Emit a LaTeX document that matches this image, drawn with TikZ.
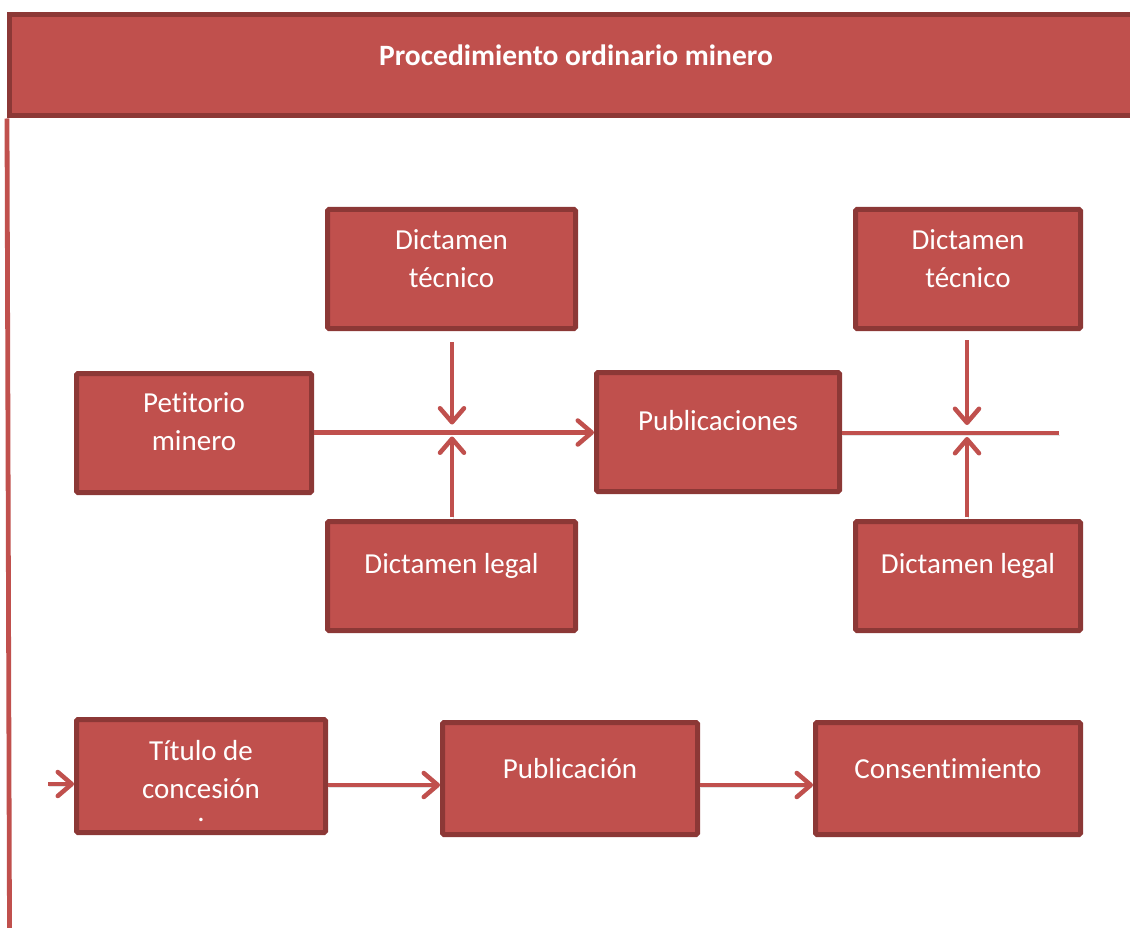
\documentclass[tikz,border=0pt]{standalone}
\usepackage{fontspec}
\setmainfont{Carlito}[Ligatures=NoCommon]
\usetikzlibrary{arrows.meta}
\definecolor{boxfill}{HTML}{C0504D}
\definecolor{boxedge}{HTML}{8C3836}
\begin{document}
\begin{tikzpicture}[x=1pt,y=-1pt,
  stepbox/.style={draw=boxedge, fill=boxfill, line width=5pt, rounded corners=1.5pt, inner sep=0pt},
  boxtext/.style={text=white, font=\fontsize{29}{38}\selectfont, align=center, inner sep=0pt},
  flow/.style={draw=boxfill, line width=4.5pt,
    preaction={draw=black!30, opacity=0.35, transform canvas={shift={(1pt,-2pt)}}}},
  tip/.style={-{Straight Barb[length=14pt,width=24pt,line cap=round,line join=round]}}
]
\useasboundingbox (0,0) rectangle (1130,928);

% title band and the rail down the left side
\node[stepbox, rounded corners=0pt, minimum width=1131pt, minimum height=101pt] (head) at (574.5,65.5) {};
\node[text=white, font=\bfseries\fontsize{29.5}{34}\selectfont, inner sep=0pt] (title) at (576,55) {Procedimiento ordinario minero};
\coordinate (railend) at (9.5,928);
\draw[draw=boxfill, line width=4.8pt] (head.south west) ++(0.5pt,0) coordinate (railtop) (railtop) -- (railend);

% first stage boxes
\node[stepbox, minimum width=235pt, minimum height=119pt] (pet) at (194,433) {};
\node[stepbox, minimum width=248pt, minimum height=119pt] (dt1) at (451.5,269) {};
\node[stepbox, minimum width=248pt, minimum height=109pt] (dl1) at (451.5,576) {};
\node[stepbox, minimum width=243pt, minimum height=119pt] (pub) at (718,432) {};
\node[stepbox, minimum width=225pt, minimum height=119pt] (dt2) at (968,269) {};
\node[stepbox, minimum width=225pt, minimum height=109pt] (dl2) at (968,576) {};

% second stage boxes
\node[stepbox, minimum width=249pt, minimum height=113pt] (tit) at (201,776) {};
\node[stepbox, minimum width=255pt, minimum height=112pt] (pubn) at (570,778.5) {};
\node[stepbox, minimum width=265pt, minimum height=112pt] (cons) at (948,778.5) {};

% labels
\node[boxtext] (petL) at (194,422) {Petitorio\\minero};
\node[boxtext] (dt1L) at (451.5,259) {Dictamen\\técnico};
\node[boxtext] (dl1L) at (451.5,566) {Dictamen legal};
\node[boxtext] (pubL) at (718,421) {Publicaciones};
\node[boxtext] (dt2L) at (968,259) {Dictamen\\técnico};
\node[boxtext] (dl2L) at (968,566) {Dictamen legal};
\node[boxtext] (titL) at (201,770) {Título de\\concesión};
\node[boxtext, anchor=base] (titDot) at (201,821) {.};
\node[boxtext] (pubnL) at (570,769) {Publicación};
\node[boxtext] (consL) at (948,769) {Consentimiento};

% junctions on the main line
\coordinate (j1) at (452,432.5);
\coordinate (j2) at (967,433);
\coordinate (lineend) at (1059,433);
\coordinate (entry) at (48,784);

% connectors
\draw[flow, tip] (pet.east |- j1) -- (pub.west |- j1);
\draw[flow, tip, shorten <=11pt, shorten >=8pt] (dt1.south -| j1) -- (j1);
\draw[flow, tip, shorten <=2pt, shorten >=4pt] (dl1.north -| j1) -- (j1);
\draw[flow] (pub.east |- j2) -- (lineend);
\draw[flow, tip, shorten <=9pt, shorten >=8pt] (dt2.south -| j2) -- (j2);
\draw[flow, tip, shorten <=2pt, shorten >=4pt] (dl2.north -| j2) -- (j2);

\draw[flow, tip] (entry) -- (tit.west |- entry);
\draw[flow, tip] (tit.east |- 0,785) -- (pubn.west |- 0,785);
\draw[flow, tip] (pubn.east |- 0,785) -- (cons.west |- 0,785);
\end{tikzpicture}
\end{document}
